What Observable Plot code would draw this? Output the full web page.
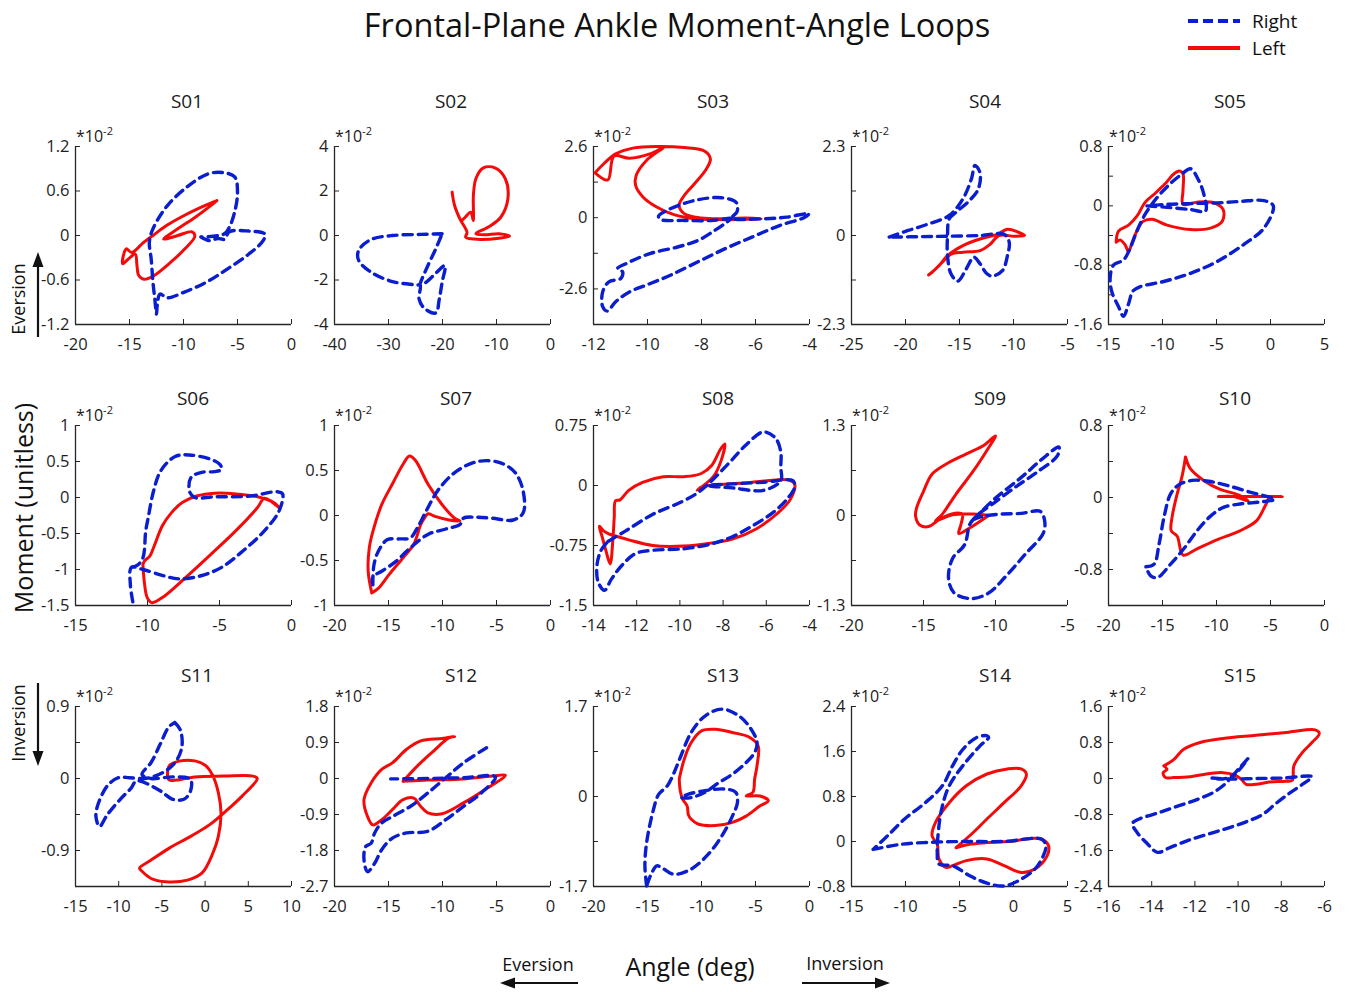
<!DOCTYPE html>
<html><head><meta charset="utf-8">
<script src="https://cdn.jsdelivr.net/npm/d3@7"></script>
<script src="https://cdn.jsdelivr.net/npm/@observablehq/plot@0.6"></script>
<style>
body{margin:0;background:#fff;}
#root{position:relative;width:1349px;height:992px;background:#fff;font-family:"Open Sans",sans-serif;color:#1a1a1a;overflow:hidden}
.abs{position:absolute;white-space:nowrap;line-height:1}
.ptitle{font-size:19px;transform:translate(-50%,-50%)}
.exp{font-size:16px}
.exp sup{font-size:11px;vertical-align:7px;line-height:0}
</style></head><body><div id="root"></div>
<script>
// ---------- categories / axes ----------
const panelNames = ["S01","S02","S03","S04","S05","S06","S07","S08","S09","S10","S11","S12","S13","S14","S15"];
const seriesNames = ["Right","Left"];
const xDomains = [[-20,0],[-40,0],[-12,-4],[-25,-5],[-15,5],[-15,0],[-20,0],[-14,-4],[-20,-5],[-20,0],[-15,10],[-20,0],[-20,0],[-15,5],[-16,-6]];
const xTicks = [[-20,-15,-10,-5,0],[-40,-30,-20,-10,0],[-12,-10,-8,-6,-4],[-25,-20,-15,-10,-5],[-15,-10,-5,0,5],
  [-15,-10,-5,0],[-20,-15,-10,-5,0],[-14,-12,-10,-8,-6,-4],[-20,-15,-10,-5],[-20,-15,-10,-5,0],
  [-15,-10,-5,0,5,10],[-20,-15,-10,-5,0],[-20,-15,-10,-5,0],[-15,-10,-5,0,5],[-16,-14,-12,-10,-8,-6]];
const yDomains = [[-1.2,1.2],[-4,4],[-3.9,2.6],[-2.3,2.3],[-1.6,0.8],[-1.5,1],[-1,1],[-1.5,0.75],[-1.3,1.3],[-1.2,0.8],[-1.35,0.9],[-2.7,1.8],[-1.7,1.7],[-0.8,2.4],[-2.4,1.6]];
const yTickLabels = [[-1.2,-0.6,0,0.6,1.2],[-4,-2,0,2,4],[-2.6,0,2.6],[-2.3,0,2.3],[-1.6,-0.8,0,0.8],
  [-1.5,-1,-0.5,0,0.5,1],[-1,-0.5,0,0.5,1],[-1.5,-0.75,0,0.75],[-1.3,0,1.3],[-0.8,0,0.8],
  [-0.9,0,0.9],[-2.7,-1.8,-0.9,0,0.9,1.8],[-1.7,0,1.7],[-0.8,0,0.8,1.6,2.4],[-2.4,-1.6,-0.8,0,0.8,1.6]];
const yTicksMinor = [[],[],[-1.3,1.3],[-1.15,1.15],[-1.2,-0.4,0.4],[],[],[],[-0.65,0.65],[-1.2,-0.4,0.4],[-0.45,0.45],[],[-0.85,0.85],[],[]];
const scaleLabel = "*10";
const scaleExp = "-2";

// ---------- series (angle deg, moment x1e-2) ----------
const s01Right = [[-8.39,-0.02],[-7.57,-0.07],[-6.84,-0.04],[-6.18,-0.05],[-5.76,0.05],[-3.95,0.06],[-2.47,0.02],[-2.63,-0.07],[-3.95,-0.25],[-5.92,-0.45],[-7.89,-0.63],[-9.87,-0.76],[-11.51,-0.84],[-12.17,-0.79],[-12.43,-0.94],[-12.5,-1.06],[-12.66,-0.85],[-12.83,-0.63],[-12.99,-0.32],[-13.16,-0.09],[-12.83,0.09],[-11.51,0.4],[-9.54,0.67],[-7.73,0.83],[-6.41,0.85],[-5.26,0.79],[-5.0,0.58],[-5.26,0.32],[-5.76,0.11],[-6.25,0.02],[-8.39,-0.02]];
const s01Left = [[-6.91,0.47],[-8.55,0.37],[-10.2,0.25],[-11.51,0.14],[-12.83,0],[-13.82,-0.11],[-14.31,-0.18],[-14.8,-0.23],[-15.3,-0.18],[-15.53,-0.25],[-15.63,-0.38],[-15.13,-0.32],[-14.47,-0.25],[-14.31,-0.4],[-14.14,-0.54],[-13.65,-0.59],[-12.83,-0.55],[-11.18,-0.36],[-9.87,-0.18],[-8.95,-0.01],[-9.21,0.05],[-10.53,0],[-11.84,-0.05],[-10.53,0.09],[-8.88,0.25],[-7.24,0.43],[-6.91,0.47]];

const s02Right = [[-20.07,0.08],[-24.01,0.05],[-29.28,0],[-33.22,-0.18],[-35.53,-0.67],[-35.53,-1.12],[-33.22,-1.65],[-29.28,-2.07],[-25.0,-2.22],[-24.14,-2.25],[-24.34,-2.85],[-23.36,-3.27],[-21.25,-3.48],[-20.59,-2.85],[-20.07,-2.1],[-19.54,-1.35],[-21.05,-1.65],[-23.03,-2.1],[-24.14,-2.25],[-22.7,-1.35],[-21.25,-0.6],[-20.07,0.08]];
const s02Left = [[-18.22,1.95],[-17.76,1.35],[-16.78,0.75],[-15.46,0.15],[-15.7,-0.08],[-14.2,-0.16],[-12.83,-0.18],[-9.54,-0.12],[-7.57,-0.03],[-9.54,0.08],[-12.17,0.03],[-13.82,0.08],[-11.51,0.38],[-9.21,0.82],[-7.89,1.65],[-8.36,2.55],[-10.2,3.03],[-12.5,3.03],[-13.82,2.55],[-14.28,1.8],[-14.28,1.2],[-14.28,0.67],[-14.8,1.05],[-15.79,0.82],[-16.45,0.67]];

const s03Right = [[-6.87,-0.01],[-7.63,-0.1],[-8.64,-0.1],[-9.53,-0.06],[-9.59,0.06],[-9.21,0.3],[-8.26,0.63],[-7.25,0.73],[-6.71,0.55],[-6.68,0.23],[-6.87,-0.01],[-5.73,-0.04],[-4.84,0.02],[-4.02,0.15],[-4.21,0],[-5.09,-0.28],[-6.11,-0.7],[-7.12,-1.13],[-8.13,-1.61],[-9.15,-2.1],[-10.04,-2.46],[-10.67,-2.71],[-11.18,-3.07],[-11.49,-3.41],[-11.66,-3.25],[-11.66,-2.71],[-11.43,-2.34],[-10.99,-2.22],[-10.92,-1.98],[-11.11,-1.86],[-10.8,-1.68],[-9.91,-1.31],[-8.89,-1.07],[-8.13,-0.83],[-7.5,-0.46],[-7.06,-0.16],[-6.87,-0.01]];
const s03Left = [[-11.94,1.64],[-11.47,1.38],[-11.24,2.25],[-10.67,2.17],[-9.91,2.33],[-9.4,2.57],[-10.04,2.09],[-10.42,1.54],[-10.44,1.18],[-10.16,0.75],[-9.66,0.39],[-9.02,0.11],[-8.26,-0.04],[-7.37,-0.07],[-6.36,-0.06],[-5.79,-0.04],[-6.36,-0.01],[-7.25,-0.04],[-8.01,-0.01],[-8.64,0.15],[-8.83,0.45],[-8.64,0.81],[-8.26,1.24],[-7.82,1.78],[-7.67,2.15],[-7.88,2.43],[-8.64,2.56],[-9.66,2.6],[-10.54,2.54],[-11.18,2.33],[-11.62,1.97],[-11.94,1.64]];

const s04Right = [[-21.51,-0.04],[-19.76,0.13],[-17.86,0.3],[-15.95,0.52],[-14.68,0.95],[-13.89,1.47],[-13.57,1.81],[-13.1,1.62],[-13.25,1.21],[-14.05,0.91],[-15.32,0.6],[-15.95,0.43],[-16.11,0],[-16.11,-0.52],[-15.79,-0.99],[-15.16,-1.18],[-14.37,-0.86],[-13.67,-0.56],[-13.1,-0.73],[-12.46,-0.99],[-11.98,-1.05],[-11.03,-0.91],[-10.56,-0.52],[-10.4,-0.17],[-10.87,0.03],[-13.1,0],[-16.27,-0.02],[-18.81,-0.03],[-21.03,-0.04],[-21.51,-0.04]];
const s04Left = [[-17.86,-1.02],[-16.9,-0.78],[-16.11,-0.52],[-14.68,-0.26],[-13.1,-0.09],[-11.51,0.03],[-10.56,0.16],[-9.6,0.09],[-8.97,0],[-9.92,-0.02],[-11.35,0],[-12.14,-0.22],[-13.1,-0.39],[-14.68,-0.43],[-15.79,-0.48],[-16.59,-0.69],[-17.54,-0.95],[-17.86,-1.02]];

const s05Right = [[-11.44,0],[-9.58,-0.02],[-7.41,-0.05],[-6.02,-0.07],[-6.18,0.16],[-6.64,0.34],[-7.41,0.5],[-8.19,0.43],[-9.27,0.3],[-10.51,0.11],[-11.59,-0.11],[-12.37,-0.34],[-12.99,-0.57],[-13.61,-0.73],[-14.54,-0.8],[-14.85,-0.98],[-14.69,-1.16],[-14.07,-1.36],[-13.61,-1.49],[-13.14,-1.32],[-12.74,-1.15],[-12.06,-1.09],[-9.89,-1.02],[-7.41,-0.91],[-4.94,-0.75],[-2.46,-0.52],[-0.6,-0.3],[0.26,0],[-0.6,0.07],[-2.77,0.06],[-4.94,0.04],[-7.41,0.03],[-9.58,0.02],[-11.44,0]];
const s05Left = [[-14.29,-0.49],[-14.07,-0.34],[-13.14,-0.26],[-12.37,-0.14],[-11.59,0.05],[-10.67,0.17],[-9.74,0.3],[-8.96,0.43],[-8.41,0.47],[-8.1,0.43],[-8.1,0.21],[-8.1,0.02],[-6.8,0.05],[-5.25,0.04],[-4.38,-0.05],[-4.47,-0.21],[-5.56,-0.3],[-7.41,-0.32],[-9.58,-0.26],[-10.98,-0.18],[-11.81,-0.21],[-12.37,-0.34],[-12.83,-0.5],[-13.14,-0.62],[-13.45,-0.53],[-13.92,-0.46],[-14.29,-0.49]];

const s06Right = [[-11.02,-1.45],[-11.19,-1.21],[-11.12,-0.97],[-10.32,-1.0],[-8.83,-1.09],[-7.84,-1.13],[-6.34,-1.09],[-4.85,-0.97],[-3.36,-0.74],[-1.87,-0.46],[-0.87,-0.19],[-0.62,0.05],[-1.0,0.08],[-2.86,0.02],[-5.35,0.01],[-6.72,0],[-7.09,0.09],[-6.97,0.28],[-6.22,0.35],[-5.35,0.36],[-4.85,0.39],[-4.98,0.46],[-5.6,0.53],[-7.09,0.59],[-8.08,0.57],[-9.08,0.37],[-9.58,0.09],[-9.95,-0.28],[-10.12,-0.46],[-10.32,-0.84],[-10.7,-0.94],[-11.12,-0.97]];
const s06Left = [[-10.32,-0.93],[-10.2,-1.21],[-10.02,-1.39],[-9.7,-1.46],[-8.83,-1.37],[-7.34,-1.11],[-5.6,-0.79],[-3.86,-0.46],[-2.36,-0.14],[-1.87,-0.01],[-0.87,-0.14],[-1.24,-0.07],[-2.36,0.01],[-3.86,0.05],[-5.35,0.06],[-6.59,0.02],[-7.59,-0.07],[-8.33,-0.21],[-8.96,-0.39],[-9.53,-0.67],[-9.83,-0.81],[-10.2,-0.88],[-10.32,-0.93]];

const s07Right = [[-16.45,-0.77],[-16.35,-0.55],[-15.95,-0.4],[-15.13,-0.27],[-13.98,-0.26],[-12.99,-0.25],[-12.34,-0.14],[-11.51,0.05],[-10.36,0.29],[-8.72,0.49],[-6.74,0.6],[-4.77,0.59],[-3.29,0.48],[-2.53,0.27],[-2.53,0.03],[-3.45,-0.05],[-5.43,-0.03],[-6.74,-0.02],[-8.06,-0.03],[-8.39,-0.1],[-9.7,-0.15],[-11.35,-0.21],[-12.99,-0.36],[-14.31,-0.51],[-15.63,-0.62],[-16.45,-0.68],[-16.45,-0.77]];
const s07Left = [[-16.55,-0.86],[-16.88,-0.62],[-16.78,-0.36],[-16.45,-0.18],[-15.63,0.12],[-14.64,0.35],[-13.65,0.57],[-13.06,0.66],[-12.5,0.61],[-11.35,0.35],[-10.03,0.12],[-8.88,-0.03],[-8.39,-0.06],[-9.38,-0.05],[-10.69,-0.01],[-11.35,0.02],[-11.68,-0.03],[-12.01,-0.1],[-12.66,-0.32],[-13.65,-0.47],[-14.97,-0.66],[-15.95,-0.81],[-16.55,-0.86]];

const s08Right = [[-13.33,-0.7],[-12.53,-0.57],[-11.25,-0.36],[-9.97,-0.21],[-9.17,-0.09],[-8.53,0.06],[-7.73,0.28],[-6.93,0.51],[-6.13,0.67],[-5.57,0.59],[-5.33,0.42],[-5.33,0.23],[-5.33,0.06],[-6.13,-0.06],[-7.57,-0.03],[-8.69,0],[-7.57,0.02],[-6.13,0.04],[-4.77,0.06],[-4.69,-0.02],[-5.01,-0.16],[-5.65,-0.33],[-6.61,-0.5],[-7.57,-0.64],[-8.53,-0.73],[-9.81,-0.79],[-11.25,-0.81],[-12.05,-0.85],[-12.69,-1.0],[-13.17,-1.17],[-13.49,-1.31],[-13.78,-1.21],[-13.84,-1.0],[-13.65,-0.81],[-13.33,-0.7]];
const s08Left = [[-13.25,-0.61],[-12.37,-0.68],[-11.25,-0.75],[-10.13,-0.76],[-8.85,-0.73],[-7.57,-0.67],[-6.45,-0.54],[-5.49,-0.35],[-4.88,-0.17],[-4.69,0.02],[-5.01,0.07],[-5.97,0.06],[-7.09,0.03],[-8.21,0.01],[-9.01,-0.02],[-9.2,-0.06],[-8.85,0.01],[-8.4,0.13],[-8.08,0.32],[-7.92,0.52],[-8.13,0.45],[-8.53,0.25],[-9.01,0.15],[-9.81,0.11],[-10.77,0.11],[-11.73,0.04],[-12.37,-0.06],[-12.77,-0.18],[-12.98,-0.19],[-13.04,-0.4],[-13.1,-0.66],[-13.23,-0.98],[-13.41,-0.83],[-13.6,-0.64],[-13.73,-0.51],[-13.52,-0.57],[-13.25,-0.61]];

const s09Right = [[-11.55,-0.06],[-10.12,0.23],[-8.21,0.55],[-6.79,0.81],[-5.6,0.99],[-5.71,0.86],[-7.02,0.64],[-8.69,0.4],[-10.12,0.18],[-11.07,0.04],[-11.43,-0.03],[-11.79,-0.13],[-12.14,-0.42],[-12.98,-0.62],[-13.26,-0.91],[-12.86,-1.12],[-11.67,-1.2],[-10.48,-1.12],[-9.29,-0.88],[-7.98,-0.57],[-6.67,-0.25],[-6.6,-0.06],[-6.9,0.06],[-8.21,0.03],[-9.64,0.02],[-10.83,-0.01],[-11.55,-0.06]];
const s09Left = [[-10.48,0],[-11.79,-0.18],[-12.55,-0.26],[-12.4,-0.13],[-12.31,0.02],[-13.1,0.02],[-13.93,-0.06],[-14.64,-0.16],[-15.24,-0.14],[-15.55,-0.01],[-15.48,0.11],[-15.0,0.35],[-14.4,0.6],[-13.45,0.74],[-12.02,0.89],[-10.83,1.01],[-10.0,1.15],[-10.6,0.94],[-11.55,0.64],[-12.74,0.31],[-13.69,0.02],[-14.17,-0.08],[-12.98,0.01],[-11.55,0.02],[-10.48,0]];

const s10Right = [[-16.54,-0.77],[-15.78,-0.74],[-15.32,-0.52],[-14.86,-0.22],[-14.25,0.04],[-13.49,0.14],[-12.26,0.19],[-10.73,0.18],[-8.9,0.13],[-6.91,0.06],[-4.62,-0.02],[-5.99,-0.05],[-7.68,-0.07],[-9.36,-0.11],[-10.58,-0.21],[-11.8,-0.37],[-13.03,-0.57],[-14.25,-0.74],[-15.47,-0.89],[-16.09,-0.87],[-16.54,-0.77]];
const s10Left = [[-12.87,0.45],[-13.18,0.24],[-13.64,0.04],[-14.1,-0.21],[-14.19,-0.37],[-13.64,-0.43],[-13.09,-0.64],[-11.8,-0.57],[-9.97,-0.47],[-7.83,-0.37],[-6.3,-0.26],[-5.44,-0.08],[-5.08,0],[-3.91,0.01],[-5.69,0.01],[-7.52,0.01],[-9.82,0.01],[-8.44,0.01],[-7.06,-0.04],[-7.98,0.03],[-9.66,0.09],[-11.19,0.19],[-12.42,0.32],[-12.87,0.45]];

const s11Right = [[-3.51,0.7],[-2.88,0.61],[-2.67,0.41],[-3.22,0.24],[-4.35,0.11],[-5.82,0.03],[-7.09,0],[-8.77,0.01],[-10.03,0.01],[-11.3,-0.09],[-12.35,-0.31],[-12.64,-0.47],[-12.22,-0.6],[-11.3,-0.45],[-9.82,-0.26],[-8.56,-0.12],[-7.93,-0.03],[-5.4,-0.14],[-3.72,-0.26],[-2.46,-0.26],[-1.7,-0.16],[-1.7,-0.01],[-3.72,0.02],[-6.25,0],[-7.3,0.05],[-6.25,0.2],[-5.19,0.43],[-4.23,0.64],[-3.51,0.7]];
const s11Left = [[-4.35,0.03],[-4.14,0.16],[-2.88,0.22],[-1.2,0.22],[0.07,0.16],[0.91,0.03],[1.54,-0.18],[1.84,-0.43],[1.54,-0.72],[0.91,-0.93],[-0.35,-1.18],[-2.04,-1.27],[-4.56,-1.29],[-6.25,-1.25],[-7.3,-1.16],[-7.59,-1.12],[-6.25,-1.02],[-4.14,-0.87],[-1.62,-0.72],[0.49,-0.58],[2.38,-0.41],[4.28,-0.22],[6.04,0],[5.54,0.03],[2.17,0.03],[-1.2,0.02],[-3.3,-0.02],[-4.14,-0.02],[-4.35,0.03]];

const s12Right = [[-5.92,0.77],[-8.06,0.39],[-9.7,0.02],[-11.35,-0.36],[-12.99,-0.7],[-14.64,-0.95],[-15.63,-1.11],[-16.28,-1.36],[-16.61,-1.62],[-17.11,-1.7],[-17.27,-2.03],[-16.94,-2.33],[-16.28,-2.12],[-15.63,-1.78],[-14.64,-1.49],[-13.32,-1.36],[-11.35,-1.32],[-9.7,-1.03],[-8.06,-0.7],[-6.41,-0.36],[-5.1,0.04],[-8.06,0.02],[-11.35,0],[-14.8,-0.01]];
const s12Left = [[-13.65,-0.07],[-12.34,0.31],[-11.02,0.64],[-9.38,1.02],[-8.88,1.05],[-10.03,1.0],[-12.01,0.94],[-13.32,0.73],[-14.64,0.39],[-15.63,0.23],[-16.61,-0.11],[-17.27,-0.53],[-16.94,-0.95],[-16.45,-1.16],[-15.63,-1.03],[-14.64,-0.78],[-13.65,-0.53],[-12.66,-0.49],[-12.01,-0.7],[-11.35,-0.86],[-10.03,-0.88],[-8.06,-0.61],[-6.09,-0.28],[-4.18,0.08],[-5.43,0.06],[-8.06,-0.01],[-11.35,-0.04],[-13.65,-0.07]];

const s13Right = [[-15.08,-1.69],[-15.24,-1.31],[-15.08,-0.87],[-14.44,-0.24],[-13.97,0.04],[-13.17,0.2],[-12.54,0.45],[-11.9,0.77],[-10.95,1.21],[-9.68,1.52],[-8.1,1.65],[-6.51,1.52],[-5.4,1.27],[-4.86,1.02],[-5.08,0.83],[-5.87,0.64],[-7.14,0.42],[-8.41,0.26],[-9.68,0.08],[-10.95,-0.02],[-11.9,-0.02],[-11.27,0.04],[-9.68,0.11],[-7.78,0.14],[-6.83,0.08],[-6.67,-0.11],[-7.14,-0.37],[-8.1,-0.74],[-9.37,-1.09],[-10.95,-1.37],[-12.54,-1.47],[-13.49,-1.37],[-14.13,-1.31],[-14.6,-1.44],[-15.08,-1.69]];
const s13Left = [[-12.06,0.33],[-11.59,0.71],[-10.95,1.02],[-10.0,1.24],[-8.73,1.27],[-7.14,1.21],[-5.56,1.12],[-4.76,0.96],[-4.86,0.58],[-5.08,0.33],[-5.24,0.08],[-5.87,0.01],[-4.6,0.01],[-3.81,-0.08],[-4.6,-0.18],[-5.87,-0.37],[-7.14,-0.49],[-8.73,-0.55],[-10.32,-0.52],[-10.95,-0.43],[-11.21,-0.35],[-11.33,-0.18],[-11.75,-0.05],[-11.97,0.11],[-12.06,0.33]];

const s14Right = [[-13.0,-0.14],[-10.4,-0.05],[-7.22,-0.01],[-4.05,0],[-0.87,0],[2.62,0.04],[3.0,-0.09],[2.62,-0.31],[1.98,-0.49],[0.71,-0.67],[-0.87,-0.79],[-2.46,-0.74],[-4.05,-0.61],[-5.63,-0.43],[-6.9,-0.4],[-7.06,-0.2],[-6.9,0.28],[-6.59,0.63],[-5.95,0.99],[-4.68,1.35],[-3.1,1.7],[-2.3,1.85],[-2.46,1.88],[-3.41,1.85],[-4.68,1.64],[-5.63,1.35],[-6.59,0.99],[-8.17,0.69],[-10.08,0.4],[-11.67,0.1],[-13.0,-0.14]];
const s14Left = [[-5.32,-0.11],[-3.73,0.16],[-2.46,0.4],[-0.87,0.69],[0.71,0.99],[1.19,1.2],[0.71,1.29],[-0.56,1.29],[-2.46,1.2],[-4.37,0.99],[-5.95,0.69],[-7.22,0.34],[-7.54,0.1],[-7.06,-0.05],[-6.9,-0.31],[-6.27,-0.46],[-5.63,-0.43],[-4.37,-0.34],[-2.46,-0.31],[-0.87,-0.43],[0.71,-0.55],[1.98,-0.49],[3.1,-0.26],[3.25,-0.08],[2.62,0.04],[1.35,0.05],[0.08,0.01],[-2.46,-0.02],[-4.05,-0.05],[-5.32,-0.11]];

const s15Right = [[-9.55,0.44],[-9.93,0.24],[-10.31,0.05],[-10.7,-0.01],[-11.23,0.01],[-10.39,-0.01],[-9.17,0],[-7.95,0.01],[-6.58,0.04],[-6.96,-0.11],[-7.57,-0.31],[-8.26,-0.56],[-8.87,-0.8],[-9.78,-0.99],[-11.0,-1.18],[-12.22,-1.36],[-13.13,-1.53],[-13.74,-1.64],[-14.2,-1.45],[-14.66,-1.21],[-14.89,-1.0],[-14.58,-0.9],[-13.74,-0.77],[-12.83,-0.62],[-11.91,-0.47],[-11.15,-0.31],[-10.7,-0.16],[-10.31,0.02],[-9.93,0.2],[-9.55,0.44]];
const s15Left = [[-13.44,0.28],[-12.98,0.42],[-12.52,0.65],[-11.76,0.8],[-10.7,0.89],[-9.17,0.96],[-7.65,1.03],[-6.43,1.08],[-6.24,1.0],[-6.58,0.8],[-7.04,0.57],[-7.42,0.28],[-7.49,-0.04],[-7.8,-0.06],[-8.56,-0.08],[-9.17,-0.13],[-9.63,-0.13],[-9.86,-0.01],[-10.24,0.09],[-10.7,0.13],[-11.3,0.11],[-12.22,0.04],[-12.98,0.02],[-13.36,0.02],[-13.47,0.13],[-13.29,0.2],[-13.44,0.28]];

const rightSeries = [s01Right,s02Right,s03Right,s04Right,s05Right,s06Right,s07Right,s08Right,s09Right,s10Right,s11Right,s12Right,s13Right,s14Right,s15Right];
const leftSeries = [s01Left,s02Left,s03Left,s04Left,s05Left,s06Left,s07Left,s08Left,s09Left,s10Left,s11Left,s12Left,s13Left,s14Left,s15Left];

// ---------- layout ----------
const colLeft = [75, 334, 593, 851, 1108];
const rowTop = [146, 425, 706];
const rowH = [178, 180, 180];
const plotW = 216;
const titleX = [[187,451,713,985,1230],[193,456,718,990,1235],[197,461,723,995,1240]];
const titleY = [101, 398, 675];
const blue = "#0a1ecf", red = "#f50a0a", axisCol = "#262626", textCol = "#1e1e1e";

const root = document.getElementById("root");
function addDiv(html, cls, left, top) {
  const d = document.createElement("div");
  d.className = "abs " + (cls||"");
  d.innerHTML = html;
  d.style.left = left + "px"; d.style.top = top + "px";
  root.appendChild(d);
  return d;
}

const ml = 52, mr = 16, mt = 12, mb = 38;
const fmt = d => String(d);
const tickFont = 16.5;

panelNames.forEach((name, i) => {
  const row = Math.floor(i / 5), col = i % 5;
  const H = rowH[row];
  const [x0, x1] = xDomains[i], [y0, y1] = yDomains[i];
  const allY = yTickLabels[i].concat(yTicksMinor[i]);
  const svg = Plot.plot({
    width: plotW + ml + mr, height: H + mt + mb,
    marginLeft: ml, marginRight: mr, marginTop: mt, marginBottom: mb,
    style: {fontFamily: "'Open Sans', sans-serif", background: "transparent", overflow: "visible"},
    x: {domain: [x0, x1]},
    y: {domain: [y0, y1]},
    marks: [
      Plot.axisX(xTicks[i], {tickSize: 0, tickPadding: 14, tickFormat: fmt, label: null, fontSize: tickFont, fill: textCol}),
      Plot.axisY(yTickLabels[i], {tickSize: 0, tickPadding: 6, tickFormat: fmt, label: null, fontSize: tickFont, fill: textCol}),
      Plot.tickX(xTicks[i], {x: d => d, insetTop: H - 5, stroke: axisCol, strokeWidth: 1}),
      Plot.tickY(allY, {y: d => d, insetRight: plotW - 5, stroke: axisCol, strokeWidth: 1}),
      Plot.ruleY([y0], {stroke: axisCol, strokeWidth: 1.3}),
      Plot.ruleX([x0], {stroke: axisCol, strokeWidth: 1.3}),
      Plot.line(leftSeries[i], {x: d => d[0], y: d => d[1], stroke: red, strokeWidth: 3, curve: "catmull-rom", strokeLinejoin: "round", strokeLinecap: "round"}),
      Plot.line(rightSeries[i], {x: d => d[0], y: d => d[1], stroke: blue, strokeWidth: 3.4, strokeDasharray: "9,6", curve: "catmull-rom", strokeLinejoin: "round"})
    ]
  });
  svg.style.position = "absolute";
  svg.style.left = (colLeft[col] - ml) + "px";
  svg.style.top = (rowTop[row] - mt) + "px";
  root.appendChild(svg);
  addDiv(name, "ptitle", titleX[row][col], titleY[row]);
  addDiv(scaleLabel + "<sup>" + scaleExp + "</sup>", "exp", colLeft[col] + 1, rowTop[row] - 18);
});

// ---------- overlay text, legend, arrows ----------
const ns = "http://www.w3.org/2000/svg";
const ov = document.createElementNS(ns, "svg");
ov.setAttribute("width", 1349); ov.setAttribute("height", 992);
ov.style.position = "absolute"; ov.style.left = "0"; ov.style.top = "0";
ov.style.fontFamily = "'Open Sans', sans-serif";
function el(tag, attrs, text) {
  const e = document.createElementNS(ns, tag);
  for (const k in attrs) e.setAttribute(k, attrs[k]);
  if (text != null) e.textContent = text;
  ov.appendChild(e); return e;
}
el("text", {x: 677, y: 24, "text-anchor": "middle", "dominant-baseline": "central", "font-size": 32.5, fill: "#111"}, "Frontal-Plane Ankle Moment-Angle Loops");
// legend
el("line", {x1: 1188, x2: 1240, y1: 21, y2: 21, stroke: blue, "stroke-width": 4, "stroke-dasharray": "10,5"});
el("text", {x: 1252, y: 21, "dominant-baseline": "central", "font-size": 19, fill: "#111"}, seriesNames[0]);
el("line", {x1: 1188, x2: 1240, y1: 48, y2: 48, stroke: red, "stroke-width": 4});
el("text", {x: 1252, y: 48, "dominant-baseline": "central", "font-size": 19, fill: "#111"}, seriesNames[1]);
// y label
el("text", {transform: "translate(23,508) rotate(-90)", "text-anchor": "middle", "dominant-baseline": "central", "font-size": 25, fill: "#111"}, "Moment (unitless)");
el("text", {transform: "translate(18,299) rotate(-90)", "text-anchor": "middle", "dominant-baseline": "central", "font-size": 18, fill: "#111"}, "Eversion");
el("line", {x1: 38, x2: 38, y1: 337, y2: 264, stroke: "#111", "stroke-width": 2.2});
el("polygon", {points: "38,252 32.5,267 43.5,267", fill: "#111"});
el("text", {transform: "translate(18,723) rotate(-90)", "text-anchor": "middle", "dominant-baseline": "central", "font-size": 18, fill: "#111"}, "Inversion");
el("line", {x1: 38, x2: 38, y1: 683, y2: 754, stroke: "#111", "stroke-width": 2.2});
el("polygon", {points: "38,766 32.5,751 43.5,751", fill: "#111"});
// x label
el("text", {x: 690, y: 966, "text-anchor": "middle", "dominant-baseline": "central", "font-size": 25, fill: "#111"}, "Angle (deg)");
el("text", {x: 538, y: 964, "text-anchor": "middle", "dominant-baseline": "central", "font-size": 18, fill: "#111"}, "Eversion");
el("line", {x1: 578, x2: 512, y1: 983, y2: 983, stroke: "#111", "stroke-width": 2.2});
el("polygon", {points: "500,983 515,977.5 515,988.5", fill: "#111"});
el("text", {x: 845, y: 963, "text-anchor": "middle", "dominant-baseline": "central", "font-size": 18, fill: "#111"}, "Inversion");
el("line", {x1: 802, x2: 878, y1: 983, y2: 983, stroke: "#111", "stroke-width": 2.2});
el("polygon", {points: "890,983 875,977.5 875,988.5", fill: "#111"});
root.appendChild(ov);
</script></body></html>
